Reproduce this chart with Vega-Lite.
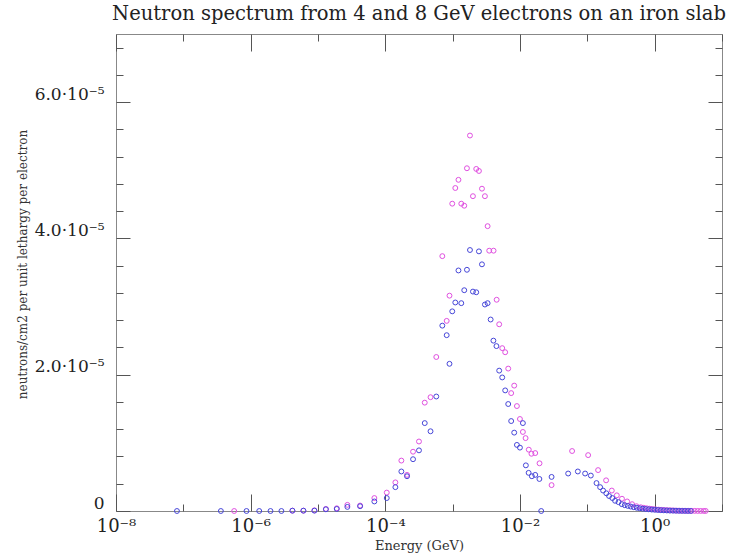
{
  "$schema": "https://vega.github.io/schema/vega-lite/v6.json",
  "width": 606,
  "height": 477,
  "autosize": {"type": "none"},
  "padding": {"left": 116, "top": 34, "right": 22, "bottom": 42},
  "background": "white",
  "title": {"text": "Neutron spectrum from 4 and 8 GeV electrons on an iron slab", "font": "DejaVu Serif", "fontSize": 19.5, "fontWeight": "normal", "color": "#222222", "anchor": "middle", "offset": 6},
  "config": {
    "view": {"stroke": "#888888", "strokeWidth": 1},
    "axis": {"grid": false, "domain": false, "tickColor": "#555555", "tickWidth": 1, "labelColor": "#222222", "titleColor": "#333333", "labelFont": "DejaVu Serif", "titleFont": "DejaVu Serif", "titleFontWeight": "normal", "labelFlush": false, "labelOverlap": false, "labelBound": false}
  },
  "data": {"values": [
    {"s": "8 GeV", "E": 5.69e-7, "f": 0},
    {"s": "8 GeV", "E": 4.17e-6, "f": 5e-8},
    {"s": "8 GeV", "E": 6.07e-6, "f": 5e-8},
    {"s": "8 GeV", "E": 8.85e-6, "f": 1e-7},
    {"s": "8 GeV", "E": 1.31e-5, "f": 3e-7},
    {"s": "8 GeV", "E": 1.90e-5, "f": 4e-7},
    {"s": "8 GeV", "E": 2.73e-5, "f": 9e-7},
    {"s": "8 GeV", "E": 4.22e-5, "f": 8e-7},
    {"s": "8 GeV", "E": 6.87e-5, "f": 1.9e-6},
    {"s": "8 GeV", "E": 1.05e-4, "f": 2.7e-6},
    {"s": "8 GeV", "E": 1.41e-4, "f": 4.2e-6},
    {"s": "8 GeV", "E": 1.73e-4, "f": 7.4e-6},
    {"s": "8 GeV", "E": 2.10e-4, "f": 5.3e-6},
    {"s": "8 GeV", "E": 2.58e-4, "f": 8.7e-6},
    {"s": "8 GeV", "E": 3.16e-4, "f": 1.02e-5},
    {"s": "8 GeV", "E": 3.85e-4, "f": 1.59e-5},
    {"s": "8 GeV", "E": 4.69e-4, "f": 1.67e-5},
    {"s": "8 GeV", "E": 5.71e-4, "f": 2.26e-5},
    {"s": "8 GeV", "E": 7.02e-4, "f": 3.74e-5},
    {"s": "8 GeV", "E": 8.15e-4, "f": 2.79e-5},
    {"s": "8 GeV", "E": 8.97e-4, "f": 3.16e-5},
    {"s": "8 GeV", "E": 9.86e-4, "f": 4.51e-5},
    {"s": "8 GeV", "E": 1.094e-3, "f": 4.74e-5},
    {"s": "8 GeV", "E": 1.219e-3, "f": 4.86e-5},
    {"s": "8 GeV", "E": 1.343e-3, "f": 4.51e-5},
    {"s": "8 GeV", "E": 1.486e-3, "f": 4.48e-5},
    {"s": "8 GeV", "E": 1.629e-3, "f": 5.03e-5},
    {"s": "8 GeV", "E": 1.807e-3, "f": 5.51e-5},
    {"s": "8 GeV", "E": 2.000e-3, "f": 4.62e-5},
    {"s": "8 GeV", "E": 2.239e-3, "f": 5.02e-5},
    {"s": "8 GeV", "E": 2.455e-3, "f": 4.99e-5},
    {"s": "8 GeV", "E": 2.723e-3, "f": 4.73e-5},
    {"s": "8 GeV", "E": 3.013e-3, "f": 4.62e-5},
    {"s": "8 GeV", "E": 3.304e-3, "f": 4.18e-5},
    {"s": "8 GeV", "E": 3.49e-3, "f": 3.82e-5},
    {"s": "8 GeV", "E": 4.05e-3, "f": 3.82e-5},
    {"s": "8 GeV", "E": 4.50e-3, "f": 3.10e-5},
    {"s": "8 GeV", "E": 4.909e-3, "f": 2.74e-5},
    {"s": "8 GeV", "E": 5.445e-3, "f": 2.39e-5},
    {"s": "8 GeV", "E": 6.026e-3, "f": 2.33e-5},
    {"s": "8 GeV", "E": 6.683e-3, "f": 2.09e-5},
    {"s": "8 GeV", "E": 7.396e-3, "f": 1.73e-5},
    {"s": "8 GeV", "E": 8.204e-3, "f": 1.84e-5},
    {"s": "8 GeV", "E": 8.995e-3, "f": 1.54e-5},
    {"s": "8 GeV", "E": 9.977e-3, "f": 1.35e-5},
    {"s": "8 GeV", "E": 1.104e-2, "f": 1.16e-5},
    {"s": "8 GeV", "E": 1.21e-2, "f": 1.07e-5},
    {"s": "8 GeV", "E": 1.35e-2, "f": 9.0e-6},
    {"s": "8 GeV", "E": 1.48e-2, "f": 8.4e-6},
    {"s": "8 GeV", "E": 1.683e-2, "f": 8.5e-6},
    {"s": "8 GeV", "E": 1.95e-2, "f": 7.0e-6},
    {"s": "8 GeV", "E": 2.944e-2, "f": 3.8e-6},
    {"s": "8 GeV", "E": 5.94e-2, "f": 8.8e-6},
    {"s": "8 GeV", "E": 0.1028, "f": 8.2e-6},
    {"s": "8 GeV", "E": 0.1445, "f": 6.0e-6},
    {"s": "8 GeV", "E": 0.190, "f": 4.5e-6},
    {"s": "8 GeV", "E": 0.231, "f": 3.0e-6},
    {"s": "8 GeV", "E": 0.2742, "f": 2.3e-6},
    {"s": "8 GeV", "E": 0.327, "f": 1.8e-6},
    {"s": "8 GeV", "E": 0.390, "f": 1.4e-6},
    {"s": "8 GeV", "E": 0.462, "f": 1.0e-6},
    {"s": "8 GeV", "E": 0.537, "f": 7e-7},
    {"s": "8 GeV", "E": 0.6223, "f": 5.5e-7},
    {"s": "8 GeV", "E": 0.6887, "f": 4.7e-7},
    {"s": "8 GeV", "E": 0.7638, "f": 4.0e-7},
    {"s": "8 GeV", "E": 0.8453, "f": 3.4e-7},
    {"s": "8 GeV", "E": 0.9376, "f": 2.9e-7},
    {"s": "8 GeV", "E": 1.038, "f": 2.4e-7},
    {"s": "8 GeV", "E": 1.151, "f": 2.0e-7},
    {"s": "8 GeV", "E": 1.275, "f": 1.7e-7},
    {"s": "8 GeV", "E": 1.413, "f": 1.4e-7},
    {"s": "8 GeV", "E": 1.567, "f": 1.2e-7},
    {"s": "8 GeV", "E": 1.734, "f": 1.0e-7},
    {"s": "8 GeV", "E": 1.920, "f": 8e-8},
    {"s": "8 GeV", "E": 2.128, "f": 6e-8},
    {"s": "8 GeV", "E": 2.355, "f": 5e-8},
    {"s": "8 GeV", "E": 2.612, "f": 4e-8},
    {"s": "8 GeV", "E": 2.891, "f": 3e-8},
    {"s": "8 GeV", "E": 3.206, "f": 3e-8},
    {"s": "8 GeV", "E": 3.548, "f": 2e-8},
    {"s": "8 GeV", "E": 3.936, "f": 2e-8},
    {"s": "8 GeV", "E": 4.365, "f": 1e-8},
    {"s": "8 GeV", "E": 4.831, "f": 1e-8},
    {"s": "8 GeV", "E": 5.354, "f": 1e-8},
    {"s": "8 GeV", "E": 5.728, "f": 1e-8},
    {"s": "4 GeV", "E": 8.04e-8, "f": 0},
    {"s": "4 GeV", "E": 3.61e-7, "f": 0},
    {"s": "4 GeV", "E": 8.67e-7, "f": 0},
    {"s": "4 GeV", "E": 1.34e-6, "f": 0},
    {"s": "4 GeV", "E": 1.97e-6, "f": 0},
    {"s": "4 GeV", "E": 2.86e-6, "f": 0},
    {"s": "4 GeV", "E": 4.17e-6, "f": 5e-8},
    {"s": "4 GeV", "E": 6.07e-6, "f": 5e-8},
    {"s": "4 GeV", "E": 8.85e-6, "f": 5e-8},
    {"s": "4 GeV", "E": 1.31e-5, "f": 2.5e-7},
    {"s": "4 GeV", "E": 1.90e-5, "f": 3e-7},
    {"s": "4 GeV", "E": 2.73e-5, "f": 6e-7},
    {"s": "4 GeV", "E": 4.22e-5, "f": 7e-7},
    {"s": "4 GeV", "E": 6.87e-5, "f": 1.4e-6},
    {"s": "4 GeV", "E": 1.05e-4, "f": 1.9e-6},
    {"s": "4 GeV", "E": 1.41e-4, "f": 3.5e-6},
    {"s": "4 GeV", "E": 1.73e-4, "f": 5.8e-6},
    {"s": "4 GeV", "E": 2.10e-4, "f": 5.1e-6},
    {"s": "4 GeV", "E": 2.58e-4, "f": 7.6e-6},
    {"s": "4 GeV", "E": 3.16e-4, "f": 8.9e-6},
    {"s": "4 GeV", "E": 3.85e-4, "f": 1.29e-5},
    {"s": "4 GeV", "E": 4.69e-4, "f": 1.17e-5},
    {"s": "4 GeV", "E": 5.71e-4, "f": 1.68e-5},
    {"s": "4 GeV", "E": 7.02e-4, "f": 2.72e-5},
    {"s": "4 GeV", "E": 8.15e-4, "f": 2.58e-5},
    {"s": "4 GeV", "E": 8.97e-4, "f": 2.16e-5},
    {"s": "4 GeV", "E": 9.86e-4, "f": 2.93e-5},
    {"s": "4 GeV", "E": 1.094e-3, "f": 3.06e-5},
    {"s": "4 GeV", "E": 1.219e-3, "f": 3.53e-5},
    {"s": "4 GeV", "E": 1.343e-3, "f": 3.05e-5},
    {"s": "4 GeV", "E": 1.486e-3, "f": 3.24e-5},
    {"s": "4 GeV", "E": 1.629e-3, "f": 3.54e-5},
    {"s": "4 GeV", "E": 1.807e-3, "f": 3.83e-5},
    {"s": "4 GeV", "E": 2.000e-3, "f": 3.22e-5},
    {"s": "4 GeV", "E": 2.239e-3, "f": 3.21e-5},
    {"s": "4 GeV", "E": 2.455e-3, "f": 3.81e-5},
    {"s": "4 GeV", "E": 2.723e-3, "f": 3.62e-5},
    {"s": "4 GeV", "E": 3.013e-3, "f": 3.03e-5},
    {"s": "4 GeV", "E": 3.304e-3, "f": 3.05e-5},
    {"s": "4 GeV", "E": 3.664e-3, "f": 2.81e-5},
    {"s": "4 GeV", "E": 4.027e-3, "f": 2.50e-5},
    {"s": "4 GeV", "E": 4.467e-3, "f": 2.42e-5},
    {"s": "4 GeV", "E": 4.909e-3, "f": 2.06e-5},
    {"s": "4 GeV", "E": 5.445e-3, "f": 1.96e-5},
    {"s": "4 GeV", "E": 6.026e-3, "f": 1.77e-5},
    {"s": "4 GeV", "E": 6.683e-3, "f": 1.57e-5},
    {"s": "4 GeV", "E": 7.396e-3, "f": 1.32e-5},
    {"s": "4 GeV", "E": 8.204e-3, "f": 1.15e-5},
    {"s": "4 GeV", "E": 8.995e-3, "f": 9.7e-6},
    {"s": "4 GeV", "E": 9.977e-3, "f": 9.3e-6},
    {"s": "4 GeV", "E": 1.104e-2, "f": 1.29e-5},
    {"s": "4 GeV", "E": 1.222e-2, "f": 6.7e-6},
    {"s": "4 GeV", "E": 1.343e-2, "f": 5.6e-6},
    {"s": "4 GeV", "E": 1.500e-2, "f": 5.1e-6},
    {"s": "4 GeV", "E": 1.683e-2, "f": 5.3e-6},
    {"s": "4 GeV", "E": 1.941e-2, "f": 4.7e-6},
    {"s": "4 GeV", "E": 2.065e-2, "f": 0},
    {"s": "4 GeV", "E": 2.944e-2, "f": 5.0e-6},
    {"s": "4 GeV", "E": 5.19e-2, "f": 5.5e-6},
    {"s": "4 GeV", "E": 7.23e-2, "f": 5.8e-6},
    {"s": "4 GeV", "E": 9.27e-2, "f": 5.5e-6},
    {"s": "4 GeV", "E": 0.1127, "f": 5.2e-6},
    {"s": "4 GeV", "E": 0.1368, "f": 4.1e-6},
    {"s": "4 GeV", "E": 0.1549, "f": 3.5e-6},
    {"s": "4 GeV", "E": 0.1714, "f": 3.0e-6},
    {"s": "4 GeV", "E": 0.1914, "f": 2.6e-6},
    {"s": "4 GeV", "E": 0.2104, "f": 2.2e-6},
    {"s": "4 GeV", "E": 0.2350, "f": 1.9e-6},
    {"s": "4 GeV", "E": 0.2582, "f": 1.5e-6},
    {"s": "4 GeV", "E": 0.2904, "f": 1.3e-6},
    {"s": "4 GeV", "E": 0.3251, "f": 1.0e-6},
    {"s": "4 GeV", "E": 0.3597, "f": 8.5e-7},
    {"s": "4 GeV", "E": 0.3990, "f": 7.5e-7},
    {"s": "4 GeV", "E": 0.4416, "f": 6.5e-7},
    {"s": "4 GeV", "E": 0.4898, "f": 5.5e-7},
    {"s": "4 GeV", "E": 0.5433, "f": 4.7e-7},
    {"s": "4 GeV", "E": 0.6012, "f": 4.0e-7},
    {"s": "4 GeV", "E": 0.6653, "f": 3.4e-7},
    {"s": "4 GeV", "E": 0.7379, "f": 2.9e-7},
    {"s": "4 GeV", "E": 0.8185, "f": 2.5e-7},
    {"s": "4 GeV", "E": 0.9057, "f": 2.1e-7},
    {"s": "4 GeV", "E": 1.003, "f": 1.8e-7},
    {"s": "4 GeV", "E": 1.112, "f": 1.5e-7},
    {"s": "4 GeV", "E": 1.233, "f": 1.2e-7},
    {"s": "4 GeV", "E": 1.366, "f": 1.0e-7},
    {"s": "4 GeV", "E": 1.514, "f": 8e-8},
    {"s": "4 GeV", "E": 1.675, "f": 6e-8},
    {"s": "4 GeV", "E": 1.858, "f": 5e-8},
    {"s": "4 GeV", "E": 2.057, "f": 4e-8},
    {"s": "4 GeV", "E": 2.280, "f": 3e-8},
    {"s": "4 GeV", "E": 2.523, "f": 2e-8},
    {"s": "4 GeV", "E": 2.799, "f": 2e-8},
    {"s": "4 GeV", "E": 3.097, "f": 1e-8},
    {"s": "4 GeV", "E": 3.436, "f": 1e-8}
  ]},
  "layer": [
    {
      "mark": {"type": "point", "shape": "circle", "filled": false, "size": 24, "strokeWidth": 1, "opacity": 1},
      "encoding": {
        "x": {"field": "E", "type": "quantitative",
          "scale": {"type": "log", "domain": [1e-8, 10], "nice": false},
          "axis": {"orient": "bottom", "title": "Energy (GeV)", "titleFontSize": 13, "titleX": 303, "titleY": 38, "titleBaseline": "alphabetic", "titleAlign": "center",
            "values": [1e-8, 1e-7, 1e-6, 1e-5, 1e-4, 1e-3, 1e-2, 1e-1, 1, 10],
            "tickSize": {"condition": {"test": "round(log(datum.value)/LN10) % 2 == 0", "value": -17}, "value": -7},
            "labelFontSize": 18, "labelPadding": 23,
            "labelExpr": "round(log(datum.value)/LN10) == -8 ? '10⁻⁸' : round(log(datum.value)/LN10) == -6 ? '10⁻⁶' : round(log(datum.value)/LN10) == -4 ? '10⁻⁴' : round(log(datum.value)/LN10) == -2 ? '10⁻²' : round(log(datum.value)/LN10) == 0 ? '10⁰' : ''"}},
        "y": {"field": "f", "type": "quantitative",
          "scale": {"domain": [0, 7e-5], "nice": false, "zero": false},
          "axis": {"orient": "left", "title": "neutrons/cm2 per unit lethargy per electron", "titleFontSize": 12, "titleX": -94, "titleY": 230, "titleAngle": -90, "titleBaseline": "middle", "titleAlign": "center",
            "values": [0, 4e-6, 8e-6, 1.2e-5, 1.6e-5, 2e-5, 2.4e-5, 2.8e-5, 3.2e-5, 3.6e-5, 4e-5, 4.4e-5, 4.8e-5, 5.2e-5, 5.6e-5, 6e-5, 6.4e-5, 6.8e-5],
            "tickSize": {"condition": {"test": "round(datum.value*1e6) % 20 == 0", "value": -14}, "value": -7},
            "labelFontSize": 17, "labelPadding": 26, "labelBaseline": "alphabetic", "labelOffset": -3,
            "labelExpr": "round(datum.value*1e6) == 0 ? '0' : round(datum.value*1e6) % 20 == 0 ? format(datum.value*1e5, '.1f') + '·10⁻⁵' : ''"}},
        "color": {"field": "s", "type": "nominal", "scale": {"domain": ["8 GeV", "4 GeV"], "range": ["#e050e0", "#4646d8"]}, "legend": null}
      }
    },
    {
      "mark": {"type": "point", "opacity": 0},
      "encoding": {
        "x": {"field": "E", "type": "quantitative",
          "axis": {"orient": "top", "title": null, "labels": false,
            "values": [1e-8, 1e-7, 1e-6, 1e-5, 1e-4, 1e-3, 1e-2, 1e-1, 1, 10],
            "tickSize": {"condition": {"test": "round(log(datum.value)/LN10) % 2 == 0", "value": -17}, "value": -7}}},
        "y": {"field": "f", "type": "quantitative",
          "axis": {"orient": "right", "title": null, "labels": false,
            "values": [0, 4e-6, 8e-6, 1.2e-5, 1.6e-5, 2e-5, 2.4e-5, 2.8e-5, 3.2e-5, 3.6e-5, 4e-5, 4.4e-5, 4.8e-5, 5.2e-5, 5.6e-5, 6e-5, 6.4e-5, 6.8e-5],
            "tickSize": {"condition": {"test": "round(datum.value*1e6) % 20 == 0", "value": -14}, "value": -7}}}
      }
    }
  ],
  "resolve": {"axis": {"x": "independent", "y": "independent"}}
}
